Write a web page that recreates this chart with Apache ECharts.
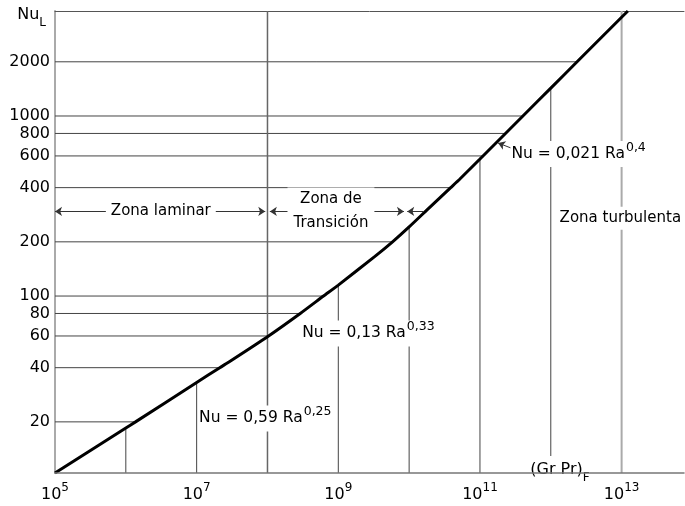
<!DOCTYPE html>
<html><head><meta charset="utf-8">
<script src="https://cdn.jsdelivr.net/npm/echarts@6/dist/echarts.min.js"></script>
<style>html,body{margin:0;padding:0;background:#fff}#c{width:685px;height:506px}</style>
</head><body><div id="c"></div>
<script>
// ---- data ----
const xTickValues = [1e5, 1e7, 1e9, 1e11, 1e13];
const xTickExponents = ['5', '7', '9', '11', '13'];
const yTickValues = [20, 40, 60, 80, 100, 200, 400, 600, 800, 1000, 2000];

const curveRa = [1e5, 1e6, 1.37e6, 1e7, 2.12e7, 2.93e7, 1.036e8, 2.9e8, 6.18e8, 1e9, 3.29e9, 5.83e9, 1e10, 1.97e10, 3.86e10, 5.21e10, 1e11, 1.103e11, 2.29e11, 4.04e11, 1e12, 2.35e12, 1.226e13];
const curveNu = [10.4, 18.5, 20, 33.1, 40, 43.3, 60, 80, 100, 115, 166, 200, 242, 312, 400, 447, 577, 600, 800, 1000, 1429, 2000, 3830];

const hLineNu = [20, 40, 60, 80, 100, 200, 400, 600, 800, 1000, 2000];
const hLineEndRa = [1.37e6, 2.12e7, 1.036e8, 2.9e8, 6.18e8, 5.83e9, 3.86e10, 1.103e11, 2.29e11, 4.04e11, 2.35e12];
const vLineRa = [1e6, 1e7, 1e9, 1e10, 1e11, 1e12];
const vLineEndNu = [18.5, 33.1, 115, 242, 577, 1429];
const fullVLineRa = [1e8, 1e13];

const xMin = 1e5, xMax = 7.6e13, yMin = 10.4, yMax = 3830;

const FONT = 'DejaVu Sans';
const INK = '#000';
const chart = echarts.init(document.getElementById('c'), null, {renderer: 'canvas'});

const series = [];
hLineNu.forEach((v, i) => series.push({
  type: 'line', data: [[xMin, v], [hLineEndRa[i], v]], symbol: 'none', silent: true, z: 1,
  lineStyle: {color: '#444', width: 1}
}));
vLineRa.forEach((r, i) => series.push({
  type: 'line', data: [[r, yMin], [r, vLineEndNu[i]]], symbol: 'none', silent: true, z: 1,
  lineStyle: {color: '#444', width: 1}
}));
fullVLineRa.forEach((r, i) => series.push({
  type: 'line', data: [[r, yMin], [r, yMax]], symbol: 'none', silent: true, z: 1,
  lineStyle: {color: i === 0 ? '#666' : '#aaa', width: i === 0 ? 1.5 : 2}
}));
series.push({
  type: 'line', data: curveRa.map((r, i) => [r, curveNu[i]]), symbol: 'none', smooth: 0.2, z: 3,
  lineStyle: {color: '#000', width: 3}
});
// zone arrows
series.push({
  type: 'line', data: [], silent: true,
  markLine: {
    silent: true, animation: false, symbolSize: 7,
    lineStyle: {color: '#333', width: 1, type: 'solid'},
    label: {show: false},
    data: [
      [{coord: [1e5, 295], symbol: 'arrow'}, {coord: [9.3e7, 295], symbol: 'arrow'}],
      [{coord: [1.08e8, 295], symbol: 'arrow'}, {coord: [8.45e9, 295], symbol: 'arrow'}],
      [{coord: [9.4e9, 295], symbol: 'arrow'}, {coord: [1.6e10, 295], symbol: 'none'}],
      [{coord: [1.8e11, 708], symbol: 'arrow'}, {coord: [2.8e11, 662], symbol: 'none'}]
    ]
  }
});
const supRich = {
  b: {fontFamily: FONT, fontSize: 15.5, lineHeight: 26, color: INK},
  s: {fontFamily: FONT, fontSize: 12.5, lineHeight: 13, verticalAlign: 'top', color: INK, padding: [0, 0, 0, 1]}
};
const plain = {fontFamily: FONT, fontSize: 15, color: INK, backgroundColor: '#fff', textBorderWidth: 0};
const eqLabel = txt => ({show: true, position: 'right', distance: 0, formatter: txt, backgroundColor: '#fff',
  padding: [0, 1], rich: supRich, textBorderWidth: 0});
series.push({
  type: 'scatter', symbolSize: 1, itemStyle: {color: 'rgba(255,255,255,0)', opacity: 1}, silent: true, z: 10,
  data: [
    {value: [3.12e6, 295], label: Object.assign({show: true, position: 'inside', formatter: 'Zona laminar', padding: [2, 5]}, plain)},
    {value: [7.87e8, 295], label: Object.assign({show: true, position: 'inside', formatter: 'Zona de\nTransición', lineHeight: 24, align: 'center', padding: [0, 6]}, plain)},
    {value: [9.6e12, 270], label: Object.assign({show: true, position: 'inside', formatter: 'Zona turbulenta', padding: [4, 2]}, plain)},
    {value: [2.65e11, 615], label: eqLabel('{b|Nu = 0,021 Ra}{s|0,4}')},
    {value: [2.94e8, 62], label: eqLabel('{b|Nu = 0,13 Ra}{s|0,33}')},
    {value: [1.03e7, 20.9], label: eqLabel('{b|Nu = 0,59 Ra}{s|0,25}')}
  ]
});

chart.setOption({
  animation: false,
  backgroundColor: '#fff',
  grid: {left: 55, right: 1, top: 11, bottom: 33, containLabel: false, outerBoundsMode: 'none'},
  xAxis: [{
    type: 'log', logBase: 10, min: xMin, max: xMax, z: 5,
    name: '(Gr Pr){s|F}', nameLocation: 'end', nameGap: -124,
    nameTextStyle: {fontFamily: FONT, fontSize: 16, lineHeight: 28, color: INK, align: 'center', verticalAlign: 'middle',
      backgroundColor: '#fff', padding: [0, 5, 6, 5],
      rich: {s: {fontFamily: FONT, fontSize: 12, lineHeight: 12, verticalAlign: 'bottom', color: INK}}},
    axisLine: {show: true, lineStyle: {color: '#777', width: 1.5}},
    axisTick: {show: false},
    splitLine: {show: false},
    minorTick: {show: false}, minorSplitLine: {show: false},
    axisLabel: {
      show: true, margin: 9, customValues: xTickValues,
      formatter: v => {
        const i = xTickValues.findIndex(t => Math.abs(Math.log10(t / v)) < 0.01);
        return '{b|10}{s|' + xTickExponents[i] + '}';
      },
      rich: {
        b: {fontFamily: FONT, fontSize: 16, lineHeight: 26, color: INK},
        s: {fontFamily: FONT, fontSize: 12, lineHeight: 12, verticalAlign: 'top', color: INK}
      }
    }
  }, {
    type: 'log', logBase: 10, min: xMin, max: xMax, position: 'top',
    axisLine: {show: true, lineStyle: {color: '#555', width: 1}},
    axisTick: {show: false}, axisLabel: {show: false}, splitLine: {show: false}
  }],
  yAxis: {
    type: 'log', logBase: 10, min: yMin, max: yMax,
    name: 'Nu{s|L}', nameLocation: 'end', nameGap: -4,
    nameTextStyle: {fontFamily: FONT, fontSize: 16, lineHeight: 28, color: INK, align: 'right', verticalAlign: 'middle',
      padding: [0, 9, 0, 0],
      rich: {s: {fontFamily: FONT, fontSize: 12, lineHeight: 12, verticalAlign: 'bottom', color: INK}}},
    axisLine: {show: true, lineStyle: {color: '#aaa', width: 2}},
    axisTick: {show: false},
    splitLine: {show: false},
    axisLabel: {show: true, margin: 5, customValues: yTickValues, fontFamily: FONT, fontSize: 16, color: INK,
      formatter: v => String(Math.round(v))}
  },
  series: series
});
</script></body></html>
